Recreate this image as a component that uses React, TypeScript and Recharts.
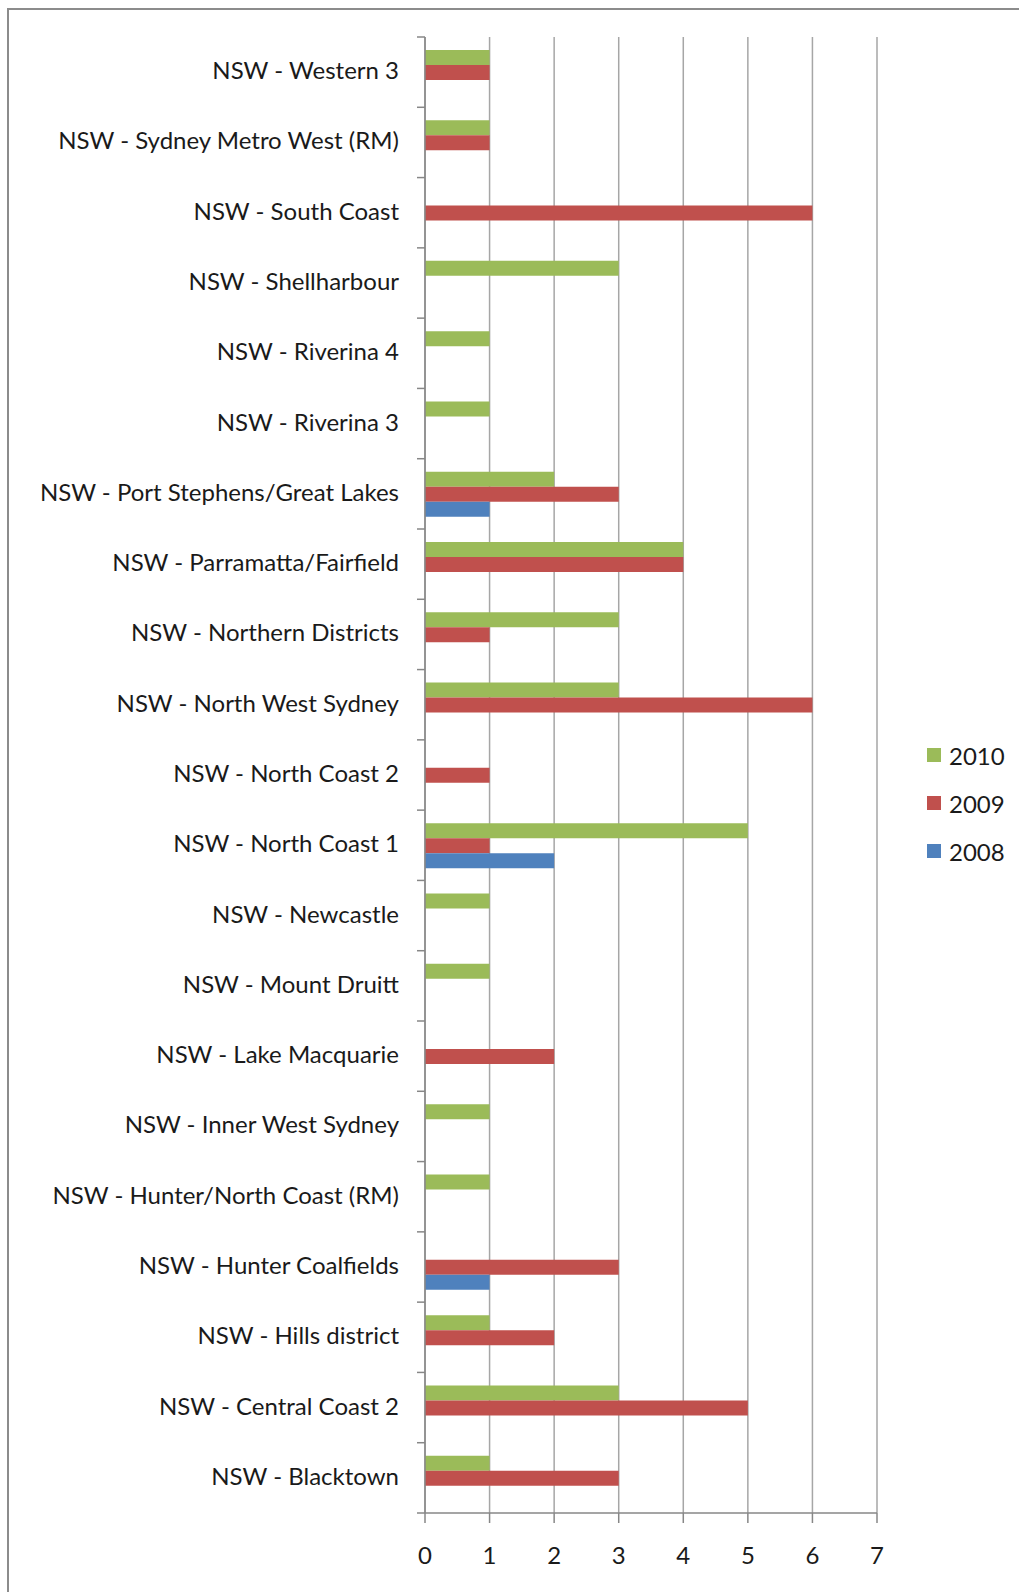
import React from "react";
import { BarChart, Bar, XAxis, YAxis, CartesianGrid } from "recharts";

const categories = [
  "NSW - Western 3",
  "NSW - Sydney Metro West (RM)",
  "NSW - South Coast",
  "NSW - Shellharbour",
  "NSW - Riverina 4",
  "NSW - Riverina 3",
  "NSW - Port Stephens/Great Lakes",
  "NSW - Parramatta/Fairfield",
  "NSW - Northern Districts",
  "NSW - North West Sydney",
  "NSW - North Coast 2",
  "NSW - North Coast 1",
  "NSW - Newcastle",
  "NSW - Mount Druitt",
  "NSW - Lake Macquarie",
  "NSW - Inner West Sydney",
  "NSW - Hunter/North Coast (RM)",
  "NSW - Hunter Coalfields",
  "NSW - Hills district",
  "NSW - Central Coast 2",
  "NSW - Blacktown",
];

const values2010 = [1, 1, 0, 3, 1, 1, 2, 4, 3, 3, 0, 5, 1, 1, 0, 1, 1, 0, 1, 3, 1];
const values2009 = [1, 1, 6, 0, 0, 0, 3, 4, 1, 6, 1, 1, 0, 0, 2, 0, 0, 3, 2, 5, 3];
const values2008 = [0, 0, 0, 0, 0, 0, 1, 0, 0, 0, 0, 2, 0, 0, 0, 0, 0, 1, 0, 0, 0];

const xTicks = [0, 1, 2, 3, 4, 5, 6, 7];

const series = [
  { key: "y2010", name: "2010", color: "#9BBB59" },
  { key: "y2009", name: "2009", color: "#C0504D" },
  { key: "y2008", name: "2008", color: "#4F81BD" },
];

const data = categories.map((c, i) => ({
  name: c,
  y2010: values2010[i],
  y2009: values2009[i],
  y2008: values2008[i],
}));

const W = 1019;
const H = 1592;
const PLOT_LEFT = 425;
const PLOT_RIGHT = 877;
const PLOT_TOP = 37;
const PLOT_BOTTOM = 1513;
const BAND = (PLOT_BOTTOM - PLOT_TOP) / categories.length;
const FONT = "Lato, 'Open Sans', sans-serif";
const AXIS_COLOR = "#878787";
const GRID_COLOR = "#A6A6A6";

const YTick = (props: any) => {
  const { y, payload, index } = props;
  const last = index === categories.length - 1;
  return (
    <g>
      <line x1={PLOT_LEFT - 8} x2={PLOT_LEFT} y1={y - BAND / 2} y2={y - BAND / 2} stroke={AXIS_COLOR} strokeWidth={1.5} />
      {last && (
        <line x1={PLOT_LEFT - 8} x2={PLOT_LEFT} y1={y + BAND / 2} y2={y + BAND / 2} stroke={AXIS_COLOR} strokeWidth={1.5} />
      )}
      <text x={399} y={y} dy={7} textAnchor="end" fontSize={24} fontFamily={FONT} fill="#1a1a1a">
        {payload.value}
      </text>
    </g>
  );
};

export default function App() {
  return (
    <div style={{ position: "absolute", left: 0, top: 0, width: W, height: H, overflow: "hidden", background: "#fff" }}>
      <div
        style={{
          position: "absolute",
          left: 7,
          top: 8,
          width: 1100,
          height: 1700,
          borderLeft: "2px solid #8c8c8c",
          borderTop: "2px solid #8c8c8c",
        }}
      />
      <div style={{ position: "absolute", left: 0, top: 0 }}>
        <BarChart
          width={W}
          height={H}
          data={data}
          layout="vertical"
          margin={{ top: PLOT_TOP, right: W - PLOT_RIGHT, bottom: 0, left: 0 }}
          barCategoryGap="18.5%"
          barGap={0}
        >
          <CartesianGrid horizontal={false} vertical={true} stroke={GRID_COLOR} strokeWidth={1.5} />
          <XAxis
            type="number"
            domain={[0, 7]}
            ticks={xTicks}
            interval={0}
            height={H - PLOT_BOTTOM}
            axisLine={{ stroke: AXIS_COLOR, strokeWidth: 1.5 }}
            tickLine={{ stroke: AXIS_COLOR, strokeWidth: 1.5 }}
            tickSize={10}
            tickMargin={24}
            tick={{ fontSize: 24, fontFamily: FONT, fill: "#1a1a1a" }}
          />
          <YAxis
            type="category"
            dataKey="name"
            width={PLOT_LEFT}
            interval={0}
            axisLine={{ stroke: AXIS_COLOR, strokeWidth: 1.5 }}
            tickLine={false}
            tick={<YTick />}
          />
          {series.map((s) => (
            <Bar key={s.key} dataKey={s.key} name={s.name} fill={s.color} isAnimationActive={false} />
          ))}
        </BarChart>
      </div>
      <div style={{ position: "absolute", left: 927, top: 731, fontFamily: FONT, fontSize: 24, color: "#1a1a1a" }}>
        {series.map((s) => (
          <div key={s.key} style={{ display: "flex", alignItems: "center", height: 48 }}>
            <div style={{ width: 14, height: 14, background: s.color, marginRight: 8 }} />
            <span>{s.name}</span>
          </div>
        ))}
      </div>
    </div>
  );
}
